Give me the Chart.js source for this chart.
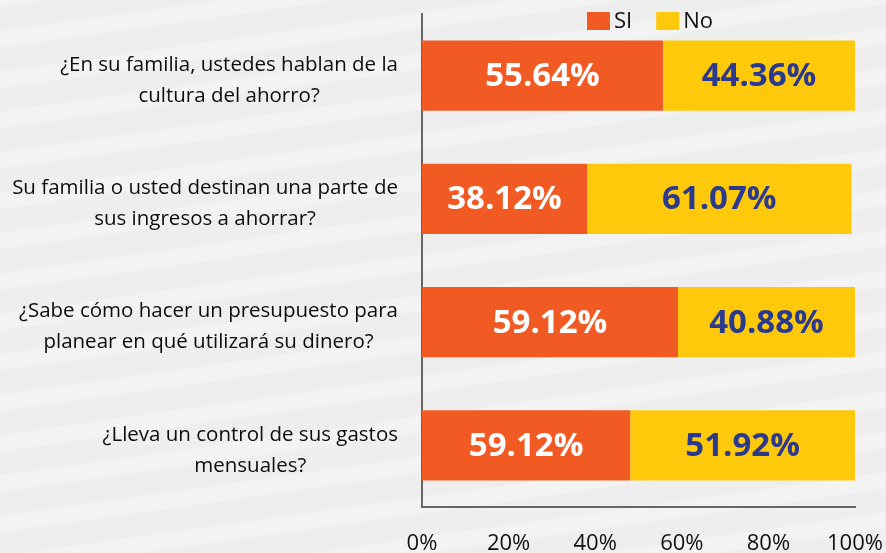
<!DOCTYPE html>
<html>
<head>
<meta charset="utf-8">
<script src="https://cdn.jsdelivr.net/npm/chart.js@4"></script>
<style>
  html, body { margin: 0; padding: 0; }
  body {
    width: 886px; height: 553px; overflow: hidden;
    background: repeating-linear-gradient(-8deg, #eeeeee 0px, #eeeeee 24px, #f3f3f3 24px, #f3f3f3 40px);
  }
  #wrap { width: 886px; height: 553px; }
</style>
</head>
<body>
<div id="wrap"><canvas id="encuesta"></canvas></div>
<script>
// datos
const categorias = [
  ["¿En su familia, ustedes hablan de la", "cultura del ahorro?"],
  ["Su familia o usted destinan una parte de", "sus ingresos a ahorrar?"],
  ["¿Sabe cómo hacer un presupuesto para", "planear en qué utilizará su dinero?"],
  ["¿Lleva un control de sus gastos", "mensuales?"]
];
const siValores = [55.64, 38.12, 59.12, 48.08];
const noValores = [44.36, 61.07, 40.88, 51.92];
// etiquetas tal como aparecen impresas
const siEtiquetas = ["55.64%", "38.12%", "59.12%", "59.12%"];
const noEtiquetas = ["44.36%", "61.07%", "40.88%", "51.92%"];
const ticksX = [0, 20, 40, 60, 80, 100];

const NARANJA = '#F15A22';
const AMARILLO = '#FFC90B';

// etiquetas de categoria centradas, bloque alineado a la derecha
const etiquetasY = {
  id: 'etiquetasY',
  afterDraw(chart) {
    const ctx = chart.ctx;
    const y = chart.scales.y;
    ctx.save();
    ctx.font = '20.5px "Open Sans"';
    ctx.fillStyle = '#0d0d0d';
    ctx.textAlign = 'center';
    ctx.textBaseline = 'middle';
    categorias.forEach((lineas, i) => {
      const cy = y.getPixelForValue(i) + 5;
      const maxW = Math.max(...lineas.map(l => ctx.measureText(l).width));
      const cx = y.right - 24 - maxW / 2;
      lineas.forEach((l, j) => {
        ctx.fillText(l, cx, cy + (j - (lineas.length - 1) / 2) * 31);
      });
    });
    ctx.restore();
  }
};

// valores dentro de las barras
const valoresBarras = {
  id: 'valoresBarras',
  afterDatasetsDraw(chart) {
    const ctx = chart.ctx;
    ctx.save();
    ctx.font = 'bold 33px "Open Sans"';
    ctx.textAlign = 'center';
    ctx.textBaseline = 'middle';
    [[0, siEtiquetas, '#ffffff'], [1, noEtiquetas, '#2B3A8F']].forEach(([d, textos, color]) => {
      chart.getDatasetMeta(d).data.forEach((bar, i) => {
        const p = bar.getCenterPoint();
        ctx.fillStyle = color;
        ctx.fillText(textos[i], p.x, p.y + 1);
      });
    });
    ctx.restore();
  }
};

// leyenda arriba
const leyenda = {
  id: 'leyenda',
  afterDraw(chart) {
    const ctx = chart.ctx;
    ctx.save();
    ctx.font = '22px "Open Sans"';
    ctx.textBaseline = 'middle';
    let x = 587;
    chart.data.datasets.forEach(ds => {
      ctx.fillStyle = ds.backgroundColor;
      ctx.fillRect(x, 12, 23, 18);
      ctx.fillStyle = '#111';
      ctx.fillText(ds.label, x + 27, 22);
      x += 27 + ctx.measureText(ds.label).width + 24;
    });
    ctx.restore();
  }
};

new Chart(document.getElementById('encuesta'), {
  type: 'bar',
  data: {
    labels: categorias,
    datasets: [
      { label: 'SI', data: siValores, backgroundColor: NARANJA },
      { label: 'No', data: noValores, backgroundColor: AMARILLO }
    ]
  },
  options: {
    indexAxis: 'y',
    responsive: true,
    maintainAspectRatio: false,
    animation: false,
    layout: { padding: { top: 14, right: 31, left: 0, bottom: 0 } },
    datasets: { bar: { categoryPercentage: 0.57, barPercentage: 1 } },
    plugins: { legend: { display: false }, tooltip: { enabled: false } },
    scales: {
      x: {
        stacked: true,
        min: 0,
        max: 100,
        afterBuildTicks: s => { s.ticks = ticksX.map(v => ({ value: v })); },
        grid: { display: false, drawTicks: false },
        border: { display: true, color: '#666', width: 2 },
        ticks: {
          padding: 24,
          color: '#111',
          font: { family: 'Open Sans', size: 22 },
          callback: v => v + '%'
        },
        afterFit: s => { s.height = 46; s.paddingLeft = 0; s.paddingRight = 0; }
      },
      y: {
        stacked: true,
        grid: { display: false, drawTicks: false },
        border: { display: true, color: '#666', width: 2 },
        ticks: { display: false },
        afterFit: s => { s.width = 422; }
      }
    }
  },
  plugins: [etiquetasY, valoresBarras, leyenda]
});
</script>
</body>
</html>
